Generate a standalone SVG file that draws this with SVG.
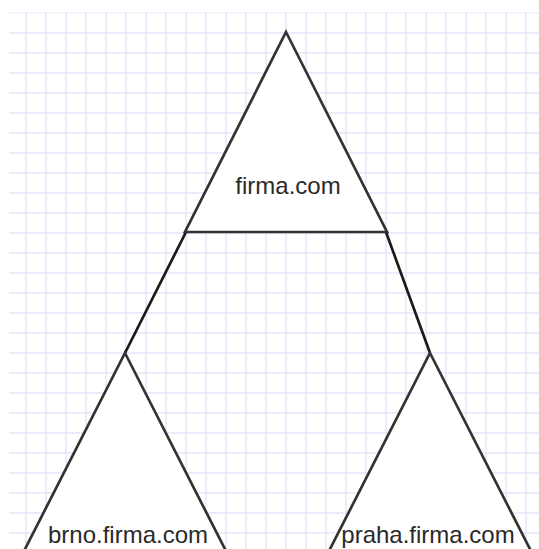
<svg xmlns="http://www.w3.org/2000/svg" width="539" height="549" viewBox="0 0 539 549">
<style>
.grid line{stroke:#e4e4fa;stroke-width:1.5}
.tri{fill:#ffffff;stroke:#333333;stroke-width:2.7;stroke-linejoin:miter}
.conn{stroke:#1a1a1a;stroke-width:2.7;fill:none}
.lbl{font-family:"Liberation Sans",Arial,sans-serif;font-size:24px;fill:#2a2a2a;text-anchor:middle}
</style>
<rect width="539" height="549" fill="#ffffff"/>
<g class="grid">
<line x1="9" y1="13" x2="539" y2="13" stroke-opacity="0.5"/>
<line x1="9" y1="33" x2="539" y2="33"/><line x1="9" y1="53" x2="539" y2="53"/><line x1="9" y1="73" x2="539" y2="73"/><line x1="9" y1="93" x2="539" y2="93"/><line x1="9" y1="113" x2="539" y2="113"/><line x1="9" y1="133" x2="539" y2="133"/><line x1="9" y1="153" x2="539" y2="153"/><line x1="9" y1="173" x2="539" y2="173"/><line x1="9" y1="193" x2="539" y2="193"/><line x1="9" y1="213" x2="539" y2="213"/><line x1="9" y1="233" x2="539" y2="233"/><line x1="9" y1="253" x2="539" y2="253"/><line x1="9" y1="273" x2="539" y2="273"/><line x1="9" y1="293" x2="539" y2="293"/><line x1="9" y1="313" x2="539" y2="313"/><line x1="9" y1="333" x2="539" y2="333"/><line x1="9" y1="353" x2="539" y2="353"/><line x1="9" y1="373" x2="539" y2="373"/><line x1="9" y1="393" x2="539" y2="393"/><line x1="9" y1="413" x2="539" y2="413"/><line x1="9" y1="433" x2="539" y2="433"/><line x1="9" y1="453" x2="539" y2="453"/><line x1="9" y1="473" x2="539" y2="473"/><line x1="9" y1="493" x2="539" y2="493"/><line x1="9" y1="513" x2="539" y2="513"/><line x1="9" y1="533" x2="539" y2="533"/>
<line x1="26" y1="13" x2="26" y2="549"/><line x1="46" y1="13" x2="46" y2="549"/><line x1="66" y1="13" x2="66" y2="549"/><line x1="86" y1="13" x2="86" y2="549"/><line x1="106" y1="13" x2="106" y2="549"/><line x1="126" y1="13" x2="126" y2="549"/><line x1="146" y1="13" x2="146" y2="549"/><line x1="166" y1="13" x2="166" y2="549"/><line x1="186" y1="13" x2="186" y2="549"/><line x1="206" y1="13" x2="206" y2="549"/><line x1="226" y1="13" x2="226" y2="549"/><line x1="246" y1="13" x2="246" y2="549"/><line x1="266" y1="13" x2="266" y2="549"/><line x1="286" y1="13" x2="286" y2="549"/><line x1="306" y1="13" x2="306" y2="549"/><line x1="326" y1="13" x2="326" y2="549"/><line x1="346" y1="13" x2="346" y2="549"/><line x1="366" y1="13" x2="366" y2="549"/><line x1="386" y1="13" x2="386" y2="549"/><line x1="406" y1="13" x2="406" y2="549"/><line x1="426" y1="13" x2="426" y2="549"/><line x1="446" y1="13" x2="446" y2="549"/><line x1="466" y1="13" x2="466" y2="549"/><line x1="486" y1="13" x2="486" y2="549"/><line x1="506" y1="13" x2="506" y2="549"/><line x1="526" y1="13" x2="526" y2="549"/>
</g>
<g id="connectors">
<line class="conn" x1="186" y1="232" x2="125" y2="353"/>
<line class="conn" x1="386" y1="232" x2="430" y2="353"/>
</g>
<g id="node-firma">
<polygon class="tri" points="286,32 387,232 185,232"/>
<text class="lbl" x="288" y="194">firma.com</text>
</g>
<g id="node-brno">
<polygon class="tri" points="125,353 227,553 23,553"/>
<text class="lbl" x="128" y="543">brno.firma.com</text>
</g>
<g id="node-praha">
<polygon class="tri" points="430,353 532,553 328,553"/>
<text class="lbl" x="428" y="543">praha.firma.com</text>
</g>
</svg>
